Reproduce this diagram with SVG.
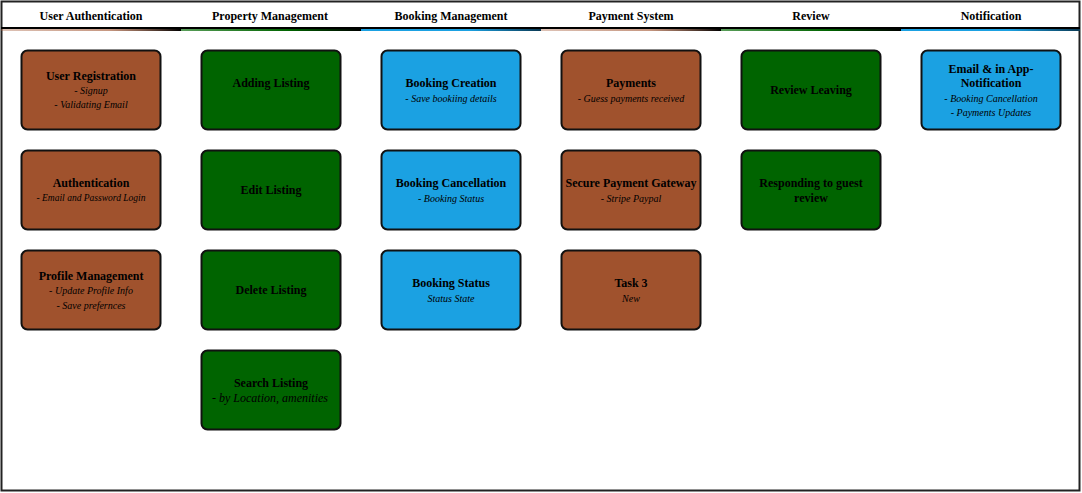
<svg xmlns="http://www.w3.org/2000/svg" width="1082" height="493" viewBox="0 0 1082 493">
  <style>
    .hdr { font-family: "Liberation Serif", serif; font-weight: bold; font-size: 12px; fill: #000; text-anchor: middle; }
    .card { stroke: #111; stroke-width: 2; }
    .brown { fill: #A0522D; }
    .green { fill: #006400; }
    .blue { fill: #1BA1E2; }
    .title { font-family: "Liberation Serif", serif; font-weight: bold; font-size: 12px; fill: #000; text-anchor: middle; }
    .sub { font-family: "Liberation Serif", serif; font-style: italic; font-size: 10px; fill: #000; text-anchor: middle; }
    .subL { font-family: "Liberation Serif", serif; font-style: italic; font-size: 12px; fill: #000; text-anchor: middle; }
  </style>
  <defs>
    <linearGradient id="gBrown" x1="0" x2="1" y1="0" y2="0">
      <stop offset="0" stop-color="#A0522D" stop-opacity="0.35"/>
      <stop offset="0.6" stop-color="#A0522D" stop-opacity="0.6"/>
      <stop offset="1" stop-color="#000"/>
    </linearGradient>
    <linearGradient id="gGreen" x1="0" x2="1" y1="0" y2="0">
      <stop offset="0" stop-color="#5a9e5a"/>
      <stop offset="0.6" stop-color="#006400"/>
      <stop offset="1" stop-color="#000"/>
    </linearGradient>
    <linearGradient id="gBlue" x1="0" x2="1" y1="0" y2="0">
      <stop offset="0" stop-color="#1BA1E2"/>
      <stop offset="0.6" stop-color="#1BA1E2"/>
      <stop offset="1" stop-color="#0b3a55"/>
    </linearGradient>
  </defs>

  <!-- frame -->
  <rect x="1.5" y="1.5" width="1078" height="489" fill="#fff" stroke="#222" stroke-width="2"/>

  <!-- swimlane header strips -->
  <rect x="1" y="29" width="180" height="2" fill="url(#gBrown)"/>
  <rect x="181" y="29" width="180" height="2" fill="url(#gGreen)"/>
  <rect x="361" y="29" width="180" height="2" fill="url(#gBlue)"/>
  <rect x="541" y="29" width="180" height="2" fill="url(#gBrown)"/>
  <rect x="721" y="29" width="180" height="2" fill="url(#gGreen)"/>
  <rect x="901" y="29" width="179" height="2" fill="url(#gBlue)"/>
  <line x1="1" y1="28" x2="1080" y2="28" stroke="#000" stroke-width="2"/>

  <text class="hdr" x="91" y="20">User Authentication</text>
  <text class="hdr" x="270" y="20">Property Management</text>
  <text class="hdr" x="451" y="20">Booking Management</text>
  <text class="hdr" x="631" y="20">Payment System</text>
  <text class="hdr" x="811" y="20">Review</text>
  <text class="hdr" x="991" y="20">Notification</text>

  <!-- User Authentication -->
  <g id="user-registration">
    <rect class="card brown" x="21.5" y="50.5" width="139" height="79" rx="6"/>
    <text class="title" x="91" y="80">User Registration</text>
    <text class="sub" x="91" y="94">- Signup</text>
    <text class="sub" x="91" y="108">- Validating Email</text>
  </g>
  <g id="authentication">
    <rect class="card brown" x="21.5" y="150.5" width="139" height="79" rx="6"/>
    <text class="title" x="91" y="187">Authentication</text>
    <text class="sub" x="91" y="201" style="font-size:9.5px">- Email and Password Login</text>
  </g>
  <g id="profile-management">
    <rect class="card brown" x="21.5" y="250.5" width="139" height="79" rx="6"/>
    <text class="title" x="91" y="280">Profile Management</text>
    <text class="sub" x="91" y="294">- Update Profile Info</text>
    <text class="sub" x="91" y="309">- Save prefernces</text>
  </g>

  <!-- Property Management -->
  <g id="adding-listing">
    <rect class="card green" x="201.5" y="50.5" width="139" height="79" rx="6"/>
    <text class="title" x="271" y="87">Adding Listing</text>
  </g>
  <g id="edit-listing">
    <rect class="card green" x="201.5" y="150.5" width="139" height="79" rx="6"/>
    <text class="title" x="271" y="194">Edit Listing</text>
  </g>
  <g id="delete-listing">
    <rect class="card green" x="201.5" y="250.5" width="139" height="79" rx="6"/>
    <text class="title" x="271" y="294">Delete Listing</text>
  </g>
  <g id="search-listing">
    <rect class="card green" x="201.5" y="350.5" width="139" height="79" rx="6"/>
    <text class="title" x="271" y="387">Search Listing</text>
    <text class="subL" x="270" y="402">- by Location, amenities</text>
  </g>

  <!-- Booking Management -->
  <g id="booking-creation">
    <rect class="card blue" x="381.5" y="50.5" width="139" height="79" rx="6"/>
    <text class="title" x="451" y="87">Booking Creation</text>
    <text class="sub" x="451" y="102">- Save bookiing details</text>
  </g>
  <g id="booking-cancellation">
    <rect class="card blue" x="381.5" y="150.5" width="139" height="79" rx="6"/>
    <text class="title" x="451" y="187">Booking Cancellation</text>
    <text class="sub" x="451" y="202">- Booking Status</text>
  </g>
  <g id="booking-status">
    <rect class="card blue" x="381.5" y="250.5" width="139" height="79" rx="6"/>
    <text class="title" x="451" y="287">Booking Status</text>
    <text class="sub" x="451" y="302">Status State</text>
  </g>

  <!-- Payment System -->
  <g id="payments">
    <rect class="card brown" x="561.5" y="50.5" width="139" height="79" rx="6"/>
    <text class="title" x="631" y="87">Payments</text>
    <text class="sub" x="631" y="102">- Guess payments received</text>
  </g>
  <g id="secure-payment-gateway">
    <rect class="card brown" x="561.5" y="150.5" width="139" height="79" rx="6"/>
    <text class="title" x="631" y="187">Secure Payment Gateway</text>
    <text class="sub" x="631" y="202">- Stripe Paypal</text>
  </g>
  <g id="task-3">
    <rect class="card brown" x="561.5" y="250.5" width="139" height="79" rx="6"/>
    <text class="title" x="631" y="287">Task 3</text>
    <text class="sub" x="631" y="302">New</text>
  </g>

  <!-- Review -->
  <g id="review-leaving">
    <rect class="card green" x="741.5" y="50.5" width="139" height="79" rx="6"/>
    <text class="title" x="811" y="94">Review Leaving</text>
  </g>
  <g id="responding-to-guest-review">
    <rect class="card green" x="741.5" y="150.5" width="139" height="79" rx="6"/>
    <text class="title" x="811" y="187">Responding to guest</text>
    <text class="title" x="811" y="202">review</text>
  </g>

  <!-- Notification -->
  <g id="email-in-app-notification">
    <rect class="card blue" x="921.5" y="50.5" width="139" height="79" rx="6"/>
    <text class="title" x="991" y="73">Email &amp; in App-</text>
    <text class="title" x="991" y="87">Notification</text>
    <text class="sub" x="991" y="102">- Booking Cancellation</text>
    <text class="sub" x="991" y="116">- Payments Updates</text>
  </g>

  <g id="connectors"/>
</svg>
